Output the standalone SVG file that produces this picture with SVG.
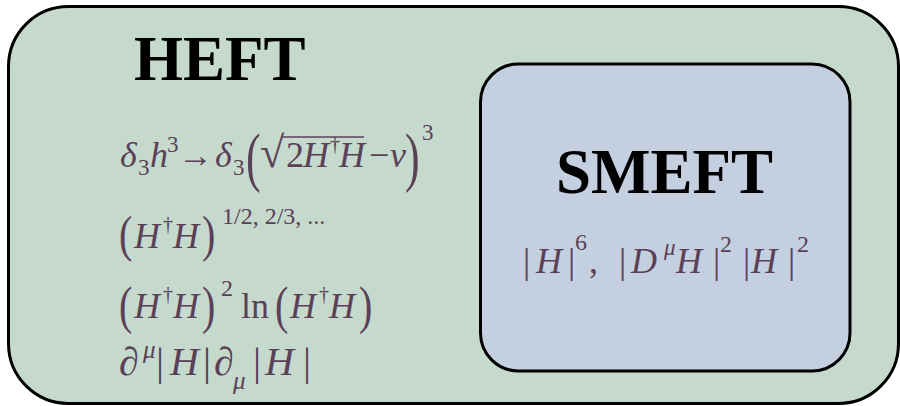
<svg xmlns="http://www.w3.org/2000/svg" width="900" height="406" viewBox="0 0 900 406">
<style>
.box{stroke:#000;stroke-width:3}
.title{font-family:"Liberation Serif",serif;font-weight:bold;font-size:63px;fill:#000}
.m{font-family:"Liberation Serif","DejaVu Serif",serif;font-style:italic;font-size:36px;fill:#5a4157}
.r{font-family:"Liberation Serif","DejaVu Serif",serif;font-size:36px;fill:#5a4157}
.s{font-size:23px}
.d{font-size:20px}
.l4{font-size:40px}
.p1{font-size:44px}
.p2{font-size:40px}
</style>
<g id="heft">
<rect class="box" x="8.5" y="6.5" width="890" height="397" rx="60" ry="60" fill="#c5dacd"/>
<text class="title" x="134" y="80">HEFT</text>
<g id="heft-line1">
<text class="m" x="120" y="167">δ</text>
<text class="r s" x="138" y="175">3</text>
<text class="m" x="150" y="167">h</text>
<text class="r s" x="167" y="152">3</text>
<text class="r" x="178" y="167" style="font-size:35px">→</text>
<text class="m" x="215" y="167">δ</text>
<text class="r s" x="233" y="175">3</text>
<text class="r p1" transform="translate(246,179) scale(1,1.5)">(</text>
<text class="r" x="260" y="167" style="font-size:44px">√</text>
<line x1="282" y1="137" x2="364" y2="137" stroke="#5a4157" stroke-width="1.6"/>
<text class="r" x="286" y="167">2</text>
<text class="m" x="303" y="167">H</text>
<text class="r d" x="330" y="151">†</text>
<text class="m" x="339" y="167">H</text>
<text class="r" x="369" y="167">−</text>
<text class="m" x="390" y="167">v</text>
<text class="r p1" transform="translate(405,179) scale(1,1.5)">)</text>
<text class="r s" x="422" y="140">3</text>
</g>
<g id="heft-line2">
<text class="r p2" transform="translate(119,251) scale(1,1.28)">(</text>
<text class="m" x="134" y="248">H</text>
<text class="r d" x="163" y="231">†</text>
<text class="m" x="173" y="248">H</text>
<text class="r p2" transform="translate(202,251) scale(1,1.28)">)</text>
<text class="r" x="222" y="224" style="font-size:24px">1/2, 2/3, ...</text>
</g>
<g id="heft-line3">
<text class="r p2" transform="translate(119,323) scale(1,1.3)">(</text>
<text class="m" x="134" y="318">H</text>
<text class="r d" x="163" y="301">†</text>
<text class="m" x="173" y="318">H</text>
<text class="r p2" transform="translate(202,323) scale(1,1.3)">)</text>
<text class="r" x="221" y="296" style="font-size:24px">2</text>
<text class="r" x="241" y="318">ln</text>
<text class="r p2" transform="translate(275,323) scale(1,1.3)">(</text>
<text class="m" x="290" y="318">H</text>
<text class="r d" x="319" y="301">†</text>
<text class="m" x="329" y="318">H</text>
<text class="r p2" transform="translate(359,323) scale(1,1.3)">)</text>
</g>
<g id="heft-line4">
<text class="m l4" x="119" y="375">∂</text>
<text class="m" x="143" y="358" style="font-size:25px">μ</text>
<text class="r l4" x="156" y="375">|</text>
<text class="m l4" x="170" y="375">H</text>
<text class="r l4" x="203" y="375">|</text>
<text class="m l4" x="214" y="375">∂</text>
<text class="m" x="233" y="389" style="font-size:25px">μ</text>
<text class="r l4" x="253" y="375">|</text>
<text class="m l4" x="265" y="375">H</text>
<text class="r l4" x="303" y="375">|</text>
</g>
</g>
<g id="smeft">
<rect class="box" x="480.5" y="64" width="369.5" height="307" rx="38" ry="38" fill="#c4d0e0"/>
<text class="title" x="556" y="193">SMEFT</text>
<g id="smeft-formula">
<text class="r" x="523" y="273">|</text>
<text class="m" x="536" y="273">H</text>
<text class="r" x="568" y="273">|</text>
<text class="r" x="575" y="250" style="font-size:24px">6</text>
<text class="r" x="589" y="273">,</text>
<text class="r" x="619" y="273">|</text>
<text class="m" x="631" y="273">D</text>
<text class="m s" x="664" y="255">μ</text>
<text class="m" x="676" y="273">H</text>
<text class="r" x="713" y="273">|</text>
<text class="r" x="720" y="252" style="font-size:24px">2</text>
<text class="r" x="743" y="273">|</text>
<text class="m" x="751" y="273">H</text>
<text class="r" x="788" y="273">|</text>
<text class="r" x="797" y="252" style="font-size:24px">2</text>
</g>
</g>
</svg>
